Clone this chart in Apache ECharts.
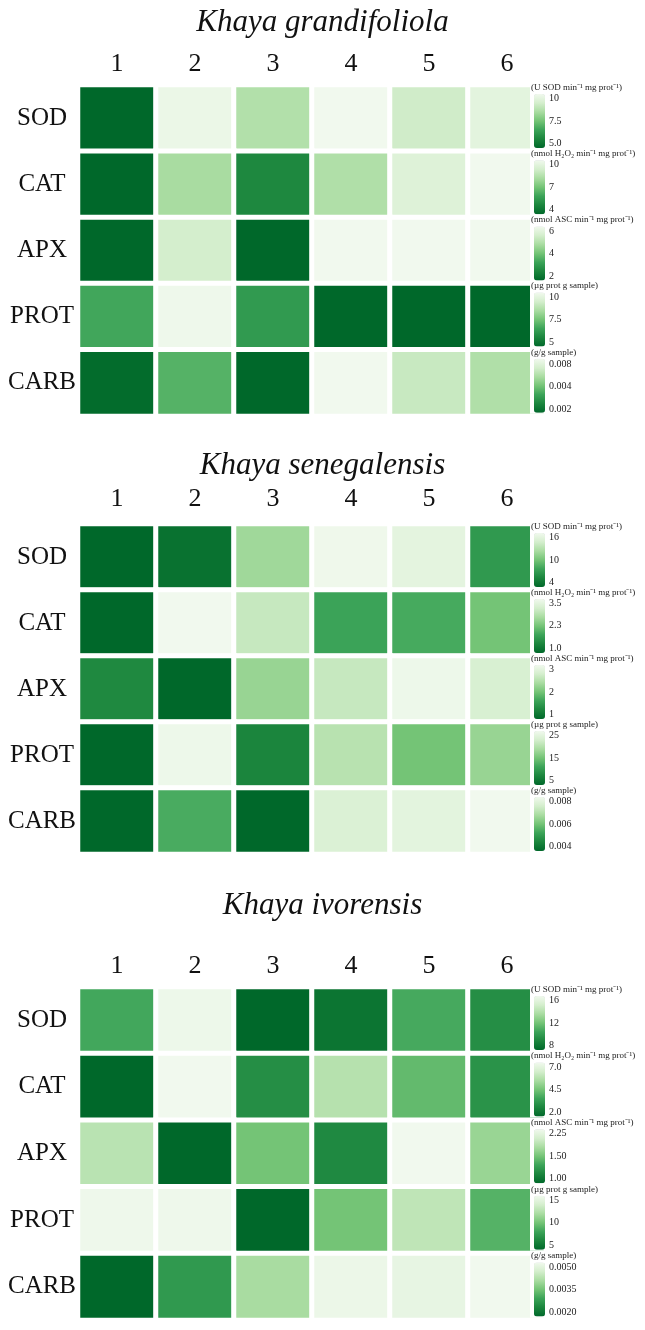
<!DOCTYPE html>
<html>
<head>
<meta charset="utf-8">
<script src="https://cdn.jsdelivr.net/npm/echarts@6/dist/echarts.min.js"></script>
<style>
	html, body { margin: 0; padding: 0; background: #fff; }
	#chart { width: 645px; height: 1330px; }
</style>
</head>
<body>
<div id="chart"></div>
<script>
var columns = ['1', '2', '3', '4', '5', '6'];
var assays = ['SOD', 'CAT', 'APX', 'PROT', 'CARB'];
var species = ['Khaya grandifoliola', 'Khaya senegalensis', 'Khaya ivorensis'];
var units = [
	'(U SOD min\u207B\u00B9 mg prot\u207B\u00B9)',
	'(nmol H\u2082O\u2082 min\u207B\u00B9 mg prot\u207B\u00B9)',
	'(nmol ASC min\u207B\u00B9 mg prot\u207B\u00B9)',
	'(\u00B5g prot g sample)',
	'(g/g sample)'
];

// Khaya grandifoliola
var grandSOD = [4.3, 10.3, 8.7, 10.5, 9.4, 10.0];
var grandCAT = [3.2, 8.2, 4.7, 8.4, 9.8, 10.6];
var grandAPX = [1.4, 5.6, 1.5, 6.4, 6.4, 6.5];
var grandPROT = [6.6, 10.4, 6.2, 4.5, 4.2, 4.35];
var grandCARB = [0.0019, 0.0048, 0.0016, 0.0095, 0.0076, 0.0069];
var grandTicks = [['5.0', '7.5', '10'], ['4', '7', '10'], ['2', '4', '6'], ['5', '7.5', '10'], ['0.002', '0.004', '0.008']];

// Khaya senegalensis
var seneSOD = [2.0, 3.6, 12.0, 17.0, 16.1, 6.8];
var seneCAT = [0.6, 3.76, 3.09, 1.75, 1.85, 2.25];
var seneAPX = [1.25, 0.66, 2.27, 2.67, 3.15, 2.86];
var senePROT = [1.6, 26.5, 7.0, 20.4, 15.0, 17.7];
var seneCARB = [0.0034, 0.0054, 0.0033, 0.0078, 0.0080, 0.0084];
var seneTicks = [['4', '10', '16'], ['1.0', '2.3', '3.5'], ['1', '2', '3'], ['5', '15', '25'], ['0.004', '0.006', '0.008']];

// Khaya ivorensis
var ivorSOD = [10.6, 16.6, 6.85, 7.9, 10.7, 9.3];
var ivorCAT = [1.3, 7.5, 2.8, 5.8, 4.2, 2.96];
var ivorAPX = [2.03, 0.87, 1.68, 1.21, 2.46, 1.86];
var ivorPROT = [15.8, 15.8, 3.3, 10.0, 13.0, 8.9];
var ivorCARB = [0.0015, 0.0027, 0.0041, 0.0052, 0.0051, 0.0053];
var ivorTicks = [['8', '12', '16'], ['2.0', '4.5', '7.0'], ['1.00', '1.50', '2.25'], ['5', '10', '15'], ['0.0020', '0.0035', '0.0050']];

var panelValues = [
	[grandSOD, grandCAT, grandAPX, grandPROT, grandCARB],
	[seneSOD, seneCAT, seneAPX, senePROT, seneCARB],
	[ivorSOD, ivorCAT, ivorAPX, ivorPROT, ivorCARB]
];
var panelTicks = [grandTicks, seneTicks, ivorTicks];

// low value = dark green, high value = near white
var palette = ['#00682a', '#1b853d', '#3ba358', '#74c476', '#a9dca1', '#d4eecd', '#f1f9ee'];

var panelTops = [85, 524, 987];
var panelHeights = [331, 330, 333];
var SERIF = 'Liberation Serif';

// legend scale: linear if ticks evenly spaced in value, log otherwise
function legendScale(labels) {
	var t = labels.map(Number);
	var d1 = t[1] - t[0], d2 = t[2] - t[1];
	var pad = 0.1;
	if (Math.abs(d1 - d2) / Math.max(d1, d2) < 0.15) {
		var p = pad * (t[2] - t[0]);
		return { type: 'value', min: t[0] - p, max: t[2] + p, ticks: t };
	}
	var base = t[1] / t[0];
	var f = Math.pow(base, pad * 2);
	return { type: 'log', base: base, min: t[0] / f, max: t[2] * f, ticks: t };
}

function tickFormatter(labels) {
	var t = labels.map(Number);
	return function (v) {
		for (var i = 0; i < t.length; i++) {
			if (Math.abs(v - t[i]) / t[i] < 0.05) {
				return labels[i];
			}
		}
		return '';
	};
}

var option = {
	animation: false,
	backgroundColor: '#fff',
	title: [],
	grid: [],
	xAxis: [],
	yAxis: [],
	visualMap: [],
	series: []
};

var titleTops = [7, 450, 890];
for (var p = 0; p < 3; p++) {
	option.title.push({
		text: species[p],
		left: 'center',
		top: titleTops[p],
		padding: 0,
		textStyle: { fontFamily: SERIF, fontStyle: 'italic', fontWeight: 'normal', fontSize: 31, color: '#111' }
	});
	option.grid.push({ left: 78, width: 468, top: panelTops[p], height: panelHeights[p] });
	option.xAxis.push({
		gridIndex: p,
		type: 'category',
		data: columns,
		position: 'top',
		axisLine: { show: false },
		axisTick: { show: false },
		splitLine: { show: false },
		axisLabel: { fontFamily: SERIF, fontSize: 26, color: '#111', margin: p === 1 ? 12 : 8 }
	});
	option.yAxis.push({
		gridIndex: p,
		type: 'category',
		data: assays,
		inverse: true,
		axisLine: { show: false },
		axisTick: { show: false },
		splitLine: { show: false },
		axisLabel: { fontFamily: SERIF, fontSize: 25, color: '#111', align: 'center', margin: 36 }
	});
}

for (var p = 0; p < 3; p++) {
	var rowH = panelHeights[p] / assays.length;
	for (var r = 0; r < assays.length; r++) {
		var vals = panelValues[p][r];
		var labels = panelTicks[p][r];
		var sc = legendScale(labels);
		var rowTop = panelTops[p] + r * rowH;
		var seriesIndex = option.series.length;

		option.series.push({
			type: 'heatmap',
			name: species[p] + ' ' + assays[r],
			xAxisIndex: p,
			yAxisIndex: p,
			data: vals.map(function (v, c) {
				return [c, this.r, v];
			}, { r: r }),
			itemStyle: { borderColor: '#fff', borderWidth: 5 },
			emphasis: { disabled: true }
		});

		// legend sits on a white box that covers the right edge of column 6
		option.visualMap.push({
			type: 'continuous',
			seriesIndex: seriesIndex,
			dimension: 2,
			min: sc.min,
			max: sc.max,
			inRange: { color: palette },
			orient: 'vertical',
			left: 530,
			top: rowTop,
			itemWidth: 11,
			itemHeight: 54,
			padding: [9, 1, 1, 4],
			backgroundColor: '#fff',
			calculable: false,
			hoverLink: false
		});

		// unit caption above each legend
		option.title.push({
			text: units[r],
			left: 531,
			top: rowTop - 2,
			padding: [0, 2, 0, 0],
			backgroundColor: '#fff',
			textStyle: { fontFamily: SERIF, fontWeight: 'normal', fontSize: 9, color: '#222' }
		});

		// axis that carries the legend tick labels
		var g = option.grid.length;
		option.grid.push({ left: 534, width: 11, top: rowTop + 9, height: 54 });
		option.xAxis.push({ gridIndex: g, type: 'category', data: [''], show: false });
		var yAx = {
			gridIndex: g,
			type: sc.type,
			position: 'right',
			min: sc.min,
			max: sc.max,
			axisLine: { show: false },
			axisTick: { show: false },
			splitLine: { show: false },
			axisLabel: {
				fontFamily: SERIF,
				fontSize: 10,
				color: '#222',
				margin: 4,
				showMinLabel: true,
				showMaxLabel: true,
				formatter: tickFormatter(labels)
			}
		};
		if (sc.type === 'log') {
			yAx.logBase = sc.base;
		} else {
			yAx.axisLabel.customValues = sc.ticks;
		}
		option.yAxis.push(yAx);
	}
}

var chart = echarts.init(document.getElementById('chart'), null, { renderer: 'canvas' });
chart.setOption(option);
</script>
</body>
</html>
